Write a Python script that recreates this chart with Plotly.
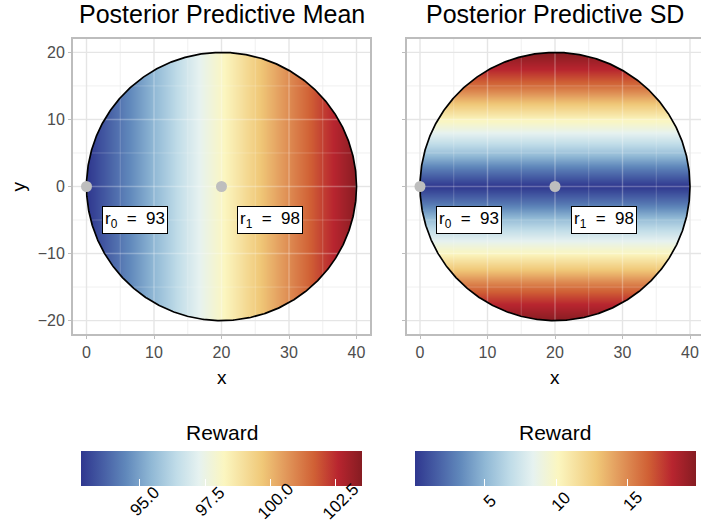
import numpy as np
import plotly.graph_objects as go

# ---------------- data ----------------
mean_x = [0, 5, 10, 15, 20, 25, 30, 35, 40]
mean_reward = [92.75, 94.1, 95.45, 96.85, 98.15, 99.5, 100.85, 102.2, 103.5]

sd_y = [-20, -17.5, -15, -12.5, -10, -7.5, -5, -2.5, 0,
        2.5, 5, 7.5, 10, 12.5, 15, 17.5, 20]
sd_reward = [19.8, 18.1, 15.9, 12.9, 10.3, 7.9, 5.5, 2.6, 0.1,
             2.6, 5.5, 7.9, 10.3, 12.9, 15.9, 18.1, 19.8]

arm_x = [0, 20]
arm_y = [0, 0]
arm_reward = [93, 98]
arm_names = ["r<sub>0</sub>", "r<sub>1</sub>"]

mean_ticks = [95.0, 97.5, 100.0, 102.5]
mean_tick_labels = ["95.0", "97.5", "100.0", "102.5"]
sd_ticks = [5, 10, 15]
sd_tick_labels = ["5", "10", "15"]
x_ticks = [0, 10, 20, 30, 40]
y_ticks = [-20, -10, 0, 10, 20]
x_minor = [5, 15, 25, 35]
y_minor = [-15, -5, 5, 15]

panel_titles = ["Posterior Predictive Mean", "Posterior Predictive SD"]
legend_title = "Reward"

# ---------------- style / layout ----------------
W, H = 701, 523
FONT = "Liberation Sans"
CX, CY, R = 20.0, 0.0, 20.0
colorscale = [
    [0.00, "#2f378f"],
    [0.09, "#4a64a8"],
    [0.16, "#6088bb"],
    [0.25, "#90b8d5"],
    [0.34, "#c0dce8"],
    [0.42, "#e6f2f0"],
    [0.51, "#fbf6c0"],
    [0.645, "#f0c878"],
    [0.715, "#e4a060"],
    [0.83, "#d06035"],
    [0.915, "#b8252f"],
    [1.00, "#861c22"],
]

px_per_unit = 6.75
y0_px, y1_px = 39, 334
left_px = (73, 370)
right_px = (406.5, 701)
yr = [-22, 22]
xr_left = [-2, 42]
xr_right = [-2, -2 + (right_px[1] - right_px[0]) / px_per_unit]
cbar_len_px = 281
cbar_top_px = 451
cbar_label_y_px = 501

def fx(p):
    return p / W

def fy(p):
    return 1 - p / H

fig = go.Figure()

def circle_pts(n=720, start=0.0, sign=1):
    t = start + sign * np.linspace(0, 2 * np.pi, n)
    return CX + R * np.cos(t), CY + R * np.sin(t)

def add_overlays(xa, ya, xr):
    # white mask outside the circle (keyhole polygon)
    xmin, xmax, ymin, ymax = -10, 60, -40, 40
    cxp, cyp = circle_pts(sign=-1)
    mx = [xmax, xmax, xmin, xmin, xmax, xmax] + list(cxp) + [xmax]
    my = [0, ymax, ymax, ymin, ymin, 0] + list(cyp) + [0]
    fig.add_trace(go.Scatter(x=mx, y=my, xaxis=xa, yaxis=ya, mode="lines",
                             fill="toself", fillcolor="white",
                             line=dict(width=0), hoverinfo="skip", showlegend=False))
    # grid lines: outside (grey) and inside (faint white)
    def segs(xs, ys):
        ox, oy, ix, iy = [], [], [], []
        for c in xs:
            if c < xr[0] or c > xr[1]:
                continue
            h = np.sqrt(max(0.0, R ** 2 - (c - CX) ** 2))
            if h > 0:
                ox += [c, c, None, c, c, None]
                oy += [yr[0], CY - h, None, CY + h, yr[1], None]
                ix += [c, c, None]
                iy += [CY - h, CY + h, None]
            else:
                ox += [c, c, None]
                oy += [yr[0], yr[1], None]
        for c in ys:
            h = np.sqrt(max(0.0, R ** 2 - (c - CY) ** 2))
            if h > 0:
                oy += [c, c, None, c, c, None]
                ox += [xr[0], CX - h, None, CX + h, xr[1], None]
                iy += [c, c, None]
                ix += [CX - h, CX + h, None]
            else:
                oy += [c, c, None]
                ox += [xr[0], xr[1], None]
        return ox, oy, ix, iy
    for xs, ys, col, w, icol in [
        (x_minor, y_minor, "rgb(238,238,238)", 0.9, "rgba(255,255,255,0.22)"),
        (x_ticks, y_ticks, "rgb(229,229,229)", 1.4, "rgba(255,255,255,0.28)"),
    ]:
        ox, oy, ix, iy = segs(xs, ys)
        fig.add_trace(go.Scatter(x=ox, y=oy, xaxis=xa, yaxis=ya, mode="lines",
                                 line=dict(color=col, width=w), hoverinfo="skip",
                                 showlegend=False))
        fig.add_trace(go.Scatter(x=ix, y=iy, xaxis=xa, yaxis=ya, mode="lines",
                                 line=dict(color=icol, width=w), hoverinfo="skip",
                                 showlegend=False))
    # circle outline
    ccx, ccy = circle_pts()
    fig.add_trace(go.Scatter(x=ccx, y=ccy, xaxis=xa, yaxis=ya, mode="lines",
                             line=dict(color="black", width=1.7), hoverinfo="skip",
                             showlegend=False))
    # arm points
    fig.add_trace(go.Scatter(x=arm_x, y=arm_y, xaxis=xa, yaxis=ya, mode="markers",
                             marker=dict(color="#bebebe", size=11), hoverinfo="skip",
                             showlegend=False))
    # arm labels
    for ax_, ay_, nm, rv in zip(arm_x, arm_y, arm_names, arm_reward):
        fig.add_annotation(x=ax_ + 7.2, y=ay_ - 5, xref=xa, yref=ya,
                           text=f"{nm}  =  {rv}", showarrow=False,
                           font=dict(family=FONT, size=17, color="black"),
                           bgcolor="white", bordercolor="black", borderwidth=1,
                           borderpad=2)

def colorbar(center_px, ticks):
    return dict(orientation="h", x=fx(center_px), xanchor="center",
                y=fy(cbar_top_px), yanchor="top", len=cbar_len_px / W,
                lenmode="fraction", thickness=35, thicknessmode="pixels",
                xpad=0, ypad=0, outlinewidth=0, ticks="inside", ticklen=7,
                tickwidth=1.2, tickcolor="white", tickvals=ticks,
                showticklabels=False)

def colorbar_labels(center_px, ticks, labels, zmin, zmax):
    left = center_px - cbar_len_px / 2
    for v, lab in zip(ticks, labels):
        px = left + (v - zmin) / (zmax - zmin) * cbar_len_px
        fig.add_annotation(x=fx(px + 4.7), y=fy(cbar_label_y_px), xref="paper",
                           yref="paper", text=lab, showarrow=False, textangle=-45,
                           xanchor="center", yanchor="middle",
                           font=dict(family=FONT, size=17, color="black"))

# left: mean
fig.add_trace(go.Heatmap(x=mean_x, y=[-20, 20], z=[mean_reward, mean_reward],
                         zsmooth="best", colorscale=colorscale,
                         zmin=min(mean_reward), zmax=max(mean_reward),
                         colorbar=colorbar(221.5, mean_ticks),
                         xaxis="x", yaxis="y", hoverinfo="skip"))
add_overlays("x", "y", xr_left)
colorbar_labels(221.5, mean_ticks, mean_tick_labels, min(mean_reward), max(mean_reward))

# right: sd
fig.add_trace(go.Heatmap(x=[0, 40], y=sd_y, z=[[v, v] for v in sd_reward],
                         zsmooth="best", colorscale=colorscale,
                         zmin=min(sd_reward), zmax=max(sd_reward),
                         colorbar=colorbar(555.5, sd_ticks),
                         xaxis="x2", yaxis="y2", hoverinfo="skip"))
add_overlays("x2", "y2", xr_right)
colorbar_labels(555.5, sd_ticks, sd_tick_labels, min(sd_reward), max(sd_reward))

tickfont = dict(family=FONT, size=16, color="#4d4d4d")
border = "#bdbdbd"
common = dict(showgrid=False, zeroline=False, ticks="outside", ticklen=3,
              tickcolor=border, tickwidth=1, tickfont=tickfont,
              showline=True, linecolor=border, linewidth=1.8)

fig.update_layout(
    width=W, height=H, margin=dict(l=0, r=0, t=0, b=0, autoexpand=False),
    paper_bgcolor="white", plot_bgcolor="white", showlegend=False,
    font=dict(family=FONT),
    xaxis=dict(domain=[fx(left_px[0]), fx(left_px[1])], range=xr_left,
               tickvals=x_ticks, anchor="y", mirror=True, **common),
    yaxis=dict(domain=[fy(y1_px), fy(y0_px)], range=yr, tickvals=y_ticks,
               anchor="x", mirror=True, **common),
    xaxis2=dict(domain=[fx(right_px[0]), 1.0], range=xr_right,
                tickvals=x_ticks, anchor="y2", mirror=True, **common),
    yaxis2=dict(domain=[fy(y1_px), fy(y0_px)], range=yr, tickvals=y_ticks,
                anchor="x2", mirror=False, showticklabels=False, **common),
)

# titles and axis labels
for cx_px, t in zip([221.5, 555], panel_titles):
    fig.add_annotation(x=fx(cx_px), y=fy(14), xref="paper", yref="paper",
                       text=t, showarrow=False, xanchor="center", yanchor="middle",
                       font=dict(family=FONT, size=25, color="black"))
for cx_px in [221.5, 555]:
    fig.add_annotation(x=fx(cx_px), y=fy(377), xref="paper", yref="paper",
                       text="x", showarrow=False, xanchor="center", yanchor="middle",
                       font=dict(family=FONT, size=19, color="black"))
    fig.add_annotation(x=fx(cx_px), y=fy(432), xref="paper", yref="paper",
                       text=legend_title, showarrow=False, xanchor="center",
                       yanchor="middle", font=dict(family=FONT, size=21, color="black"))
fig.add_annotation(x=fx(18), y=fy(186.5), xref="paper", yref="paper",
                   text="y", showarrow=False, textangle=-90, xanchor="center",
                   yanchor="middle", font=dict(family=FONT, size=19, color="black"))

fig.write_html("out.html", config={"displayModeBar": False},
               post_script="document.body.style.margin='0';"
                           "document.body.style.overflow='hidden';")
